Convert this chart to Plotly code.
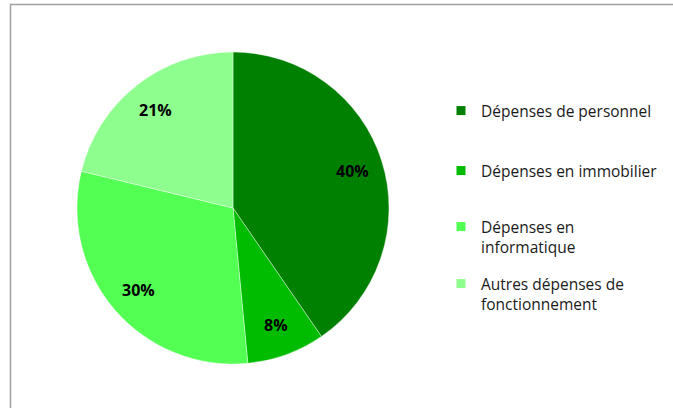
import math
import plotly.graph_objects as go

# Répartition des dépenses de fonctionnement
categories = [
    "Dépenses de personnel",
    "Dépenses en immobilier",
    "Dépenses en informatique",
    "Autres dépenses de fonctionnement",
]
legend_labels = [
    "Dépenses de personnel",
    "Dépenses en immobilier",
    "Dépenses en<br>informatique",
    "Autres dépenses de<br>fonctionnement",
]
values = [40, 8, 30, 21]
colors = ["#008000", "#00BC00", "#52FF52", "#8EFF8E"]

W, H = 673, 408
FONT = "Open Sans"

# pie geometry in pixels
CX, CY, R = 233, 208, 156
dom_x = [(CX - R - 1) / W, (CX + R + 1) / W]
dom_y = [1 - (CY + R) / H, 1 - (CY - R) / H]

fig = go.Figure()
fig.add_trace(
    go.Pie(
        labels=categories,
        values=values,
        sort=False,
        direction="clockwise",
        rotation=0,
        marker=dict(colors=colors, line=dict(color="white", width=0.4)),
        textinfo="none",
        showlegend=False,
        hoverinfo="label+value",
        domain=dict(x=dom_x, y=dom_y),
    )
)

# percentage labels along each slice's bisector
total = sum(values)
annotations = []
cum = 0.0
for v in values:
    mid = (cum + v / 2) / total * 2 * math.pi
    cum += v
    px = CX + 0.8 * R * math.sin(mid)
    py = CY - 0.8 * R * math.cos(mid)
    annotations.append(dict(
        x=px / W, y=1 - py / H, xref="paper", yref="paper",
        xanchor="center", yanchor="middle",
        text=f"{v}%", showarrow=False,
        font=dict(family=FONT, size=16, color="black", weight="bold"),
    ))

# one legend per entry, stacked down the right side
legend_tops = [94, 154, 210, 267]
legend_names = ["legend", "legend2", "legend3", "legend4"]
layout_legends = {}
for i, (lab, col) in enumerate(zip(legend_labels, colors)):
    fig.add_trace(
        go.Scatter(
            x=[None], y=[None], mode="markers",
            marker=dict(symbol="square", size=9, color=col),
            name=lab, legend=legend_names[i], showlegend=True,
        )
    )
    layout_legends[legend_names[i]] = dict(
        x=441 / W, y=1 - legend_tops[i] / H, xanchor="left", yanchor="top",
        valign="top", itemwidth=30,
        font=dict(family=FONT, size=15.5, color="#1a1a1a"),
        bgcolor="rgba(0,0,0,0)",
    )

fig.update_layout(
    width=W, height=H,
    margin=dict(l=0, r=0, t=0, b=0),
    paper_bgcolor="white", plot_bgcolor="white",
    xaxis=dict(visible=False), yaxis=dict(visible=False),
    font=dict(family=FONT, size=15.5, color="#1a1a1a"),
    annotations=annotations,
    shapes=[
        dict(type="rect", xref="paper", yref="paper",
             x0=10.5 / W, x1=1.02, y0=-0.02, y1=1 - 4.5 / H,
             line=dict(color="#A0A0A0", width=1.5), fillcolor="rgba(0,0,0,0)"),
    ],
    **layout_legends,
)

fig.write_html("out.html")
